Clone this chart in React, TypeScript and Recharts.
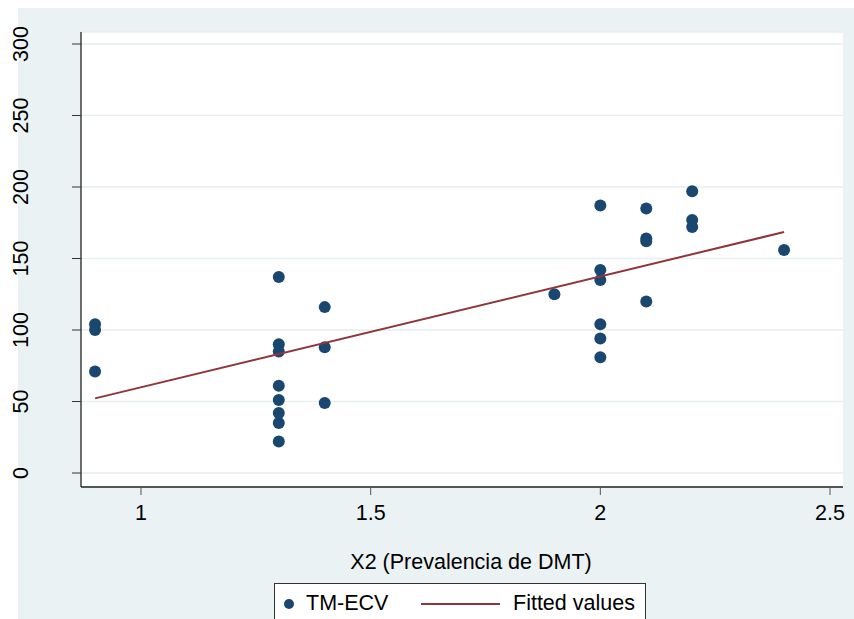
import React from 'react';
import { ScatterChart, Scatter, XAxis, YAxis, CartesianGrid, Legend } from 'recharts';

// X2: prevalencia de DMT, Y: TM-ECV
const prevalencia = [
  0.9, 0.9, 0.9,
  1.3, 1.3, 1.3, 1.3, 1.3, 1.3, 1.3, 1.3,
  1.4, 1.4, 1.4,
  1.9,
  2.0, 2.0, 2.0, 2.0, 2.0, 2.0,
  2.1, 2.1, 2.1, 2.1,
  2.2, 2.2, 2.2,
  2.4,
];
const tmEcv = [
  104, 100, 71,
  137, 90, 85, 61, 51, 42, 35, 22,
  116, 88, 49,
  125,
  187, 142, 135, 104, 94, 81,
  185, 164, 162, 120,
  197, 177, 172,
  156,
];

// endpoints of the fitted regression line
const fitX = [0.9, 2.4];
const fitY = [52.2, 168.5];

const xTicks = [1, 1.5, 2, 2.5];
const yTicks = [0, 50, 100, 150, 200, 250, 300];

const points = prevalencia.map((x, i) => ({ x, y: tmEcv[i] }));
const fitted = fitX.map((x, i) => ({ x, y: fitY[i] }));

const NAVY = '#1a476f';
const MAROON = '#90353b';
const BG = '#eaf2f3';
const FONT = '"Liberation Sans", Arial, Helvetica, sans-serif';
const FS = 21.5;

const YTick = (props: any) => {
  const { y, payload } = props;
  return (
    <text
      x={28}
      y={y}
      transform={`rotate(-90 28 ${y})`}
      textAnchor="middle"
      fontSize={FS}
      fill="#000"
    >
      {payload.value}
    </text>
  );
};

const XTick = (props: any) => {
  const { x, payload } = props;
  return (
    <text x={x} y={520} textAnchor="middle" fontSize={FS} fill="#000">
      {payload.value}
    </text>
  );
};

const XTitle = () => (
  <text x={471} y={569} textAnchor="middle" fontSize={FS} fill="#000">
    X2 (Prevalencia de DMT)
  </text>
);

const Dot = (props: any) => <circle cx={props.cx} cy={props.cy} r={6} fill={NAVY} />;
const NoDot = () => <g />;

const LegendBox = (props: any) => {
  const items = props.payload || [];
  return (
    <div
      style={{
        position: 'relative',
        width: 370,
        height: 60,
        background: '#fff',
        border: '1px solid #333',
        fontFamily: FONT,
        fontSize: FS,
        color: '#000',
      }}
    >
      {items.map((item: any) =>
        item.type === 'line' ? (
          <React.Fragment key={item.value}>
            <div style={{ position: 'absolute', left: 146, top: 19, width: 79, height: 2, background: MAROON }} />
            <div style={{ position: 'absolute', left: 238, top: 6, lineHeight: '26px' }}>{item.value}</div>
          </React.Fragment>
        ) : (
          <React.Fragment key={item.value}>
            <div style={{ position: 'absolute', left: 9, top: 15, width: 10, height: 10, borderRadius: 5, background: NAVY }} />
            <div style={{ position: 'absolute', left: 31, top: 6, lineHeight: '26px' }}>{item.value}</div>
          </React.Fragment>
        )
      )}
    </div>
  );
};

export default function App() {
  return (
    <div
      style={{
        position: 'fixed',
        left: 0,
        top: 0,
        width: 854,
        height: 619,
        background: '#fff',
        overflow: 'hidden',
        fontFamily: FONT,
      }}
    >
      <div style={{ position: 'absolute', left: 18, top: 8, width: 836, height: 611, background: BG }} />
      <div style={{ position: 'absolute', left: 0, top: 0 }}>
        <ScatterChart width={854} height={619} margin={{ top: 32, right: 11, bottom: 0, left: 0 }}>
          <CartesianGrid horizontal vertical={false} fill="#fff" stroke="#e6eef1" strokeWidth={1.5} />
          <XAxis
            type="number"
            dataKey="x"
            domain={[0.8694, 2.5283]}
            ticks={xTicks}
            allowDataOverflow
            height={132}
            tick={<XTick />}
            tickSize={8}
            tickLine={{ stroke: '#555' }}
            axisLine={{ stroke: '#222', strokeWidth: 1.3 }}
            label={<XTitle />}
          />
          <YAxis
            type="number"
            dataKey="y"
            domain={[-9.79, 308.4]}
            ticks={yTicks}
            allowDataOverflow
            width={81}
            tick={<YTick />}
            tickSize={9}
            tickLine={{ stroke: '#333' }}
            axisLine={{ stroke: '#222', strokeWidth: 1.3 }}
          />
          <Scatter name="TM-ECV" data={points} fill={NAVY} shape={<Dot />} legendType="circle" isAnimationActive={false} />
          <Scatter
            name="Fitted values"
            data={fitted}
            fill={MAROON}
            line={{ stroke: MAROON, strokeWidth: 2 }}
            shape={<NoDot />}
            legendType="line"
            isAnimationActive={false}
          />
          <Legend
            layout="horizontal"
            verticalAlign="middle"
            wrapperStyle={{ left: 274, top: 583, width: 372, height: 62 }}
            content={<LegendBox />}
          />
        </ScatterChart>
      </div>
    </div>
  );
}
